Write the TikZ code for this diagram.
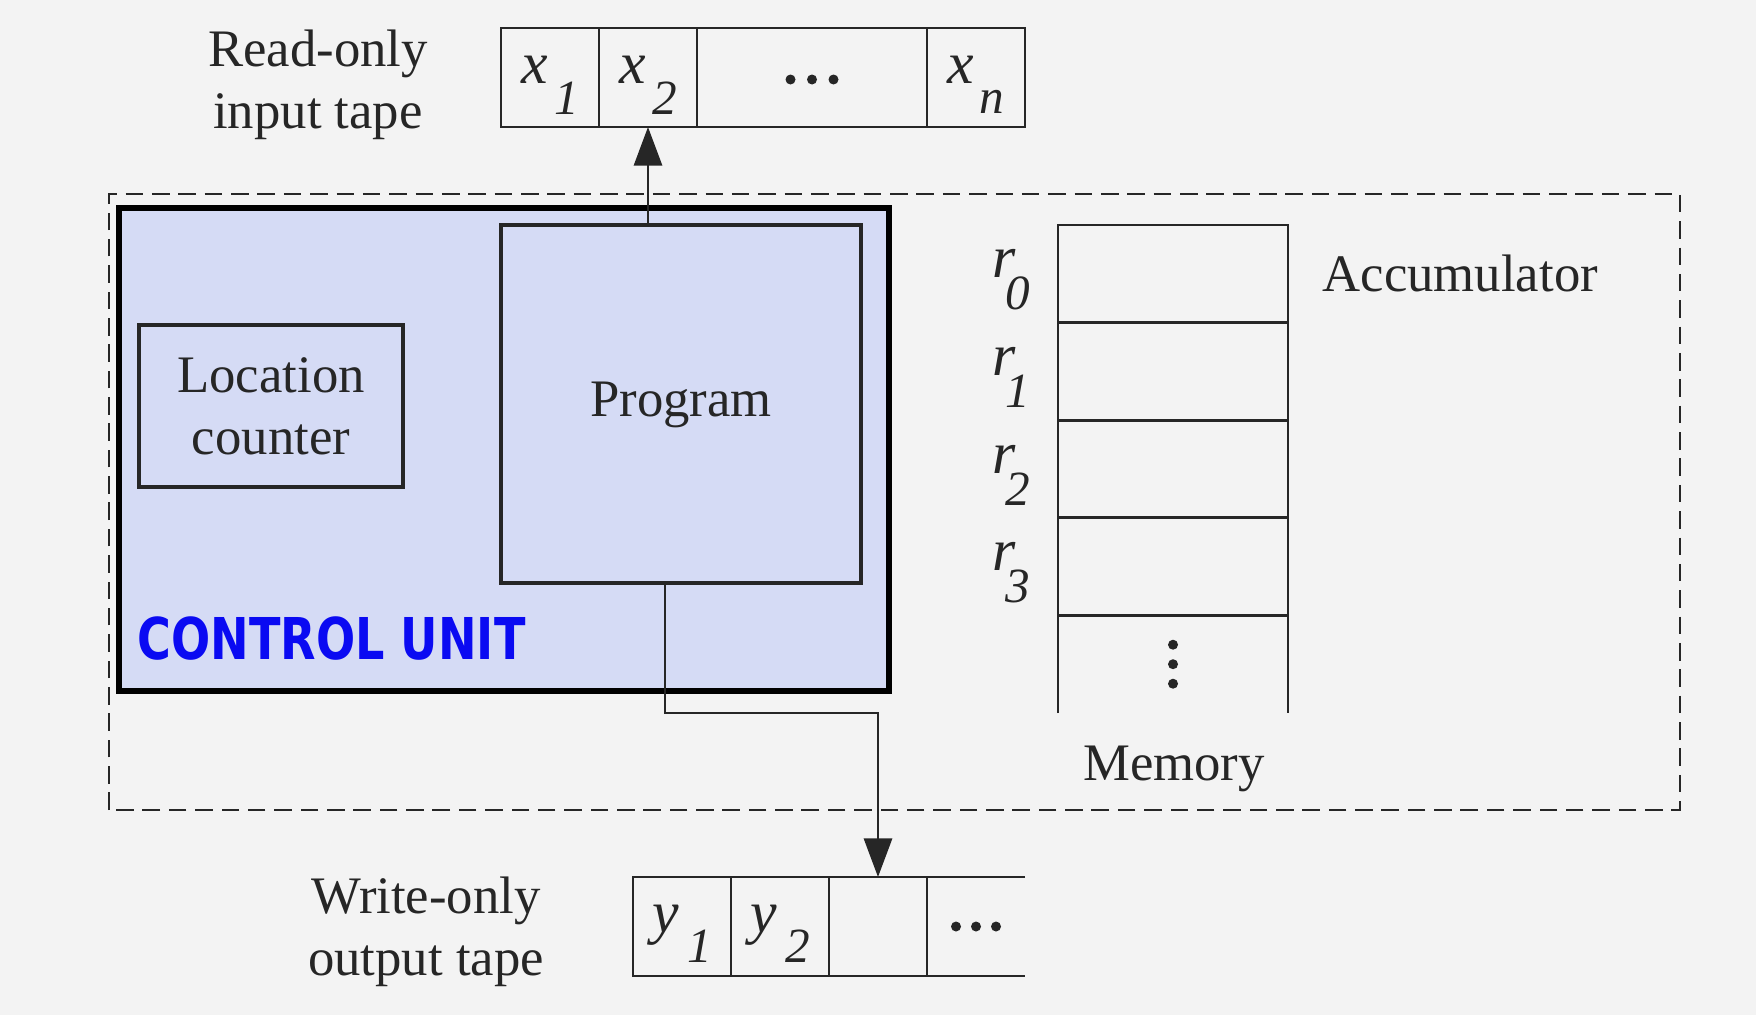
\documentclass[tikz,border=0pt]{standalone}
\usepackage{fontspec}
\usepackage{graphicx}
\setmainfont{Liberation Serif}
\newfontfamily\cufont{DejaVu Sans}
\usetikzlibrary{positioning,arrows.meta}

\definecolor{paper}{HTML}{F3F3F3}
\definecolor{ink}{HTML}{262626}
\definecolor{cufill}{HTML}{D5DBF5}
\definecolor{cublue}{HTML}{0A0AF2}

\tikzset{
  tape/.style={draw=ink, line width=0.8pt, minimum height=0.99cm, minimum width=0.98cm, inner sep=0pt, outer sep=0pt},
  reg/.style={draw=ink, line width=0.8pt, minimum height=0.976cm, minimum width=2.30cm, inner sep=0pt, outer sep=0pt},
  unit/.style={draw=ink, line width=1pt, inner sep=0pt, outer sep=0pt, align=center, text=ink, font=\fontsize{15}{17.6}\selectfont},
  lbl/.style={text=ink, inner sep=0pt, align=center, font=\fontsize{15}{17.6}\selectfont},
  var/.style={text=ink, inner sep=0pt, anchor=base, font=\fontsize{17}{17}\selectfont\itshape},
  idx/.style={text=ink, inner sep=0pt, anchor=base, text height=7.5pt, font=\fontsize{14}{14}\selectfont\itshape},
  flow/.style={draw=ink, line width=0.8pt, -{Triangle[length=11pt,width=8pt]}},
  frame/.style={draw=ink, line width=0.8pt, dash pattern=on 5pt off 2.5pt},
}

\begin{document}
\begin{tikzpicture}

  % paper
  \useasboundingbox (0,0) rectangle (17.56,10.15);
  \fill[paper] (0,0) rectangle (17.56,10.15);

  % machine frame
  \draw[frame] (1.09,2.05) rectangle (16.80,8.21);

  % control unit with its two parts
  \node[draw=black, line width=1.8pt, fill=cufill, minimum width=7.70cm, minimum height=4.83cm, anchor=north west, inner sep=0pt] (cu) at (1.16,8.10) {};
  \node[unit, minimum width=2.64cm, minimum height=1.62cm, anchor=north west] (loc) at (1.39,6.90) {Location\\counter};
  \node[unit, minimum width=3.60cm, minimum height=3.58cm, anchor=north west, text depth=0.1cm] (prog) at (5.01,7.90) {Program};
  \node[anchor=base west, inner sep=0pt, text=cublue, font=\cufont\bfseries\fontsize{16.4}{16.4}\selectfont] (cutitle) at ([shift={(0.21,0.35)}]cu.south west) {\scalebox{0.80}[1]{CONTROL UNIT}};

  % input tape
  \node[tape, anchor=north west] (in1) at (5.01,9.87) {};
  \node[tape, right=0pt of in1] (in2) {};
  \node[tape, right=0pt of in2, minimum width=2.30cm] (indots) {};
  \node[tape, right=0pt of indots] (inn) {};
  \node[var] (x1) at ([shift={(-0.15,-0.055)}]in1.center) {x};
  \node[idx] (x1i) at ([shift={(0.17,-0.365)}]in1.center) {1};
  \node[var] (x2) at ([shift={(-0.15,-0.055)}]in2.center) {x};
  \node[idx] (x2i) at ([shift={(0.17,-0.365)}]in2.center) {2};
  \node[var] (xn) at ([shift={(-0.15,-0.055)}]inn.center) {x};
  \node[idx] (xni) at ([shift={(0.16,-0.355)}]inn.center) {n};
  \foreach \d in {-1,0,1}
    \fill[ink] ([shift={(\d*0.215,-0.02)}]indots.center) circle (0.05);
  \node[lbl] (inlbl) at (3.18,9.30) {Read-only\\input tape};

  % output tape, open at the right
  \node[tape, anchor=north west] (out1) at (6.33,1.38) {};
  \node[tape, right=0pt of out1] (out2) {};
  \node[tape, right=0pt of out2] (out3) {};
  \node[tape, draw=none, right=0pt of out3] (out4) {};
  \draw[ink, line width=0.8pt] (out4.north east) -- (out4.north west) (out4.south west) -- (out4.south east);
  \node[var] (y1) at ([shift={(-0.165,-0.06)}]out1.center) {y};
  \node[idx] (y1i) at ([shift={(0.175,-0.36)}]out1.center) {1};
  \node[var] (y2) at ([shift={(-0.165,-0.06)}]out2.center) {y};
  \node[idx] (y2i) at ([shift={(0.175,-0.36)}]out2.center) {2};
  \foreach \d in {-1,0,1}
    \fill[ink] ([shift={(\d*0.2,0)}]out4.center) circle (0.05);
  \node[lbl] (outlbl) at (4.26,0.83) {Write-only\\output tape};

  % memory registers
  \node[reg, anchor=north west] (r0) at (10.58,7.90) {};
  \node[reg, below=0pt of r0] (r1) {};
  \node[reg, below=0pt of r1] (r2) {};
  \node[reg, below=0pt of r2] (r3) {};
  \node[reg, draw=none, below=0pt of r3] (rdots) {};
  \draw[ink, line width=0.8pt] (rdots.south west) -- (rdots.north west) (rdots.north east) -- (rdots.south east);
  \foreach \k in {0,1,2,3} {
    \node[var] (r\k v) at ([shift={(-0.54,-0.04)}]r\k.west) {r};
    \node[idx] (r\k i) at ([shift={(-0.40,-0.36)}]r\k.west) {\k};
  }
  \foreach \d in {-1,0,1}
    \fill[ink] ([shift={(0,\d*0.195)}]rdots.center) circle (0.05);
  \node[lbl, right=0.34cm of r0] (acc) {Accumulator};
  \node[lbl] (mem) at (11.74,2.46) {Memory};

  % reading and writing
  \coordinate (turn) at (6.65,3.02);
  \draw[flow] (in2.south |- prog.north) -- (in2.south);
  \draw[flow] (prog.south -| turn) -- (turn) -| (out3.north);

\end{tikzpicture}
\end{document}
